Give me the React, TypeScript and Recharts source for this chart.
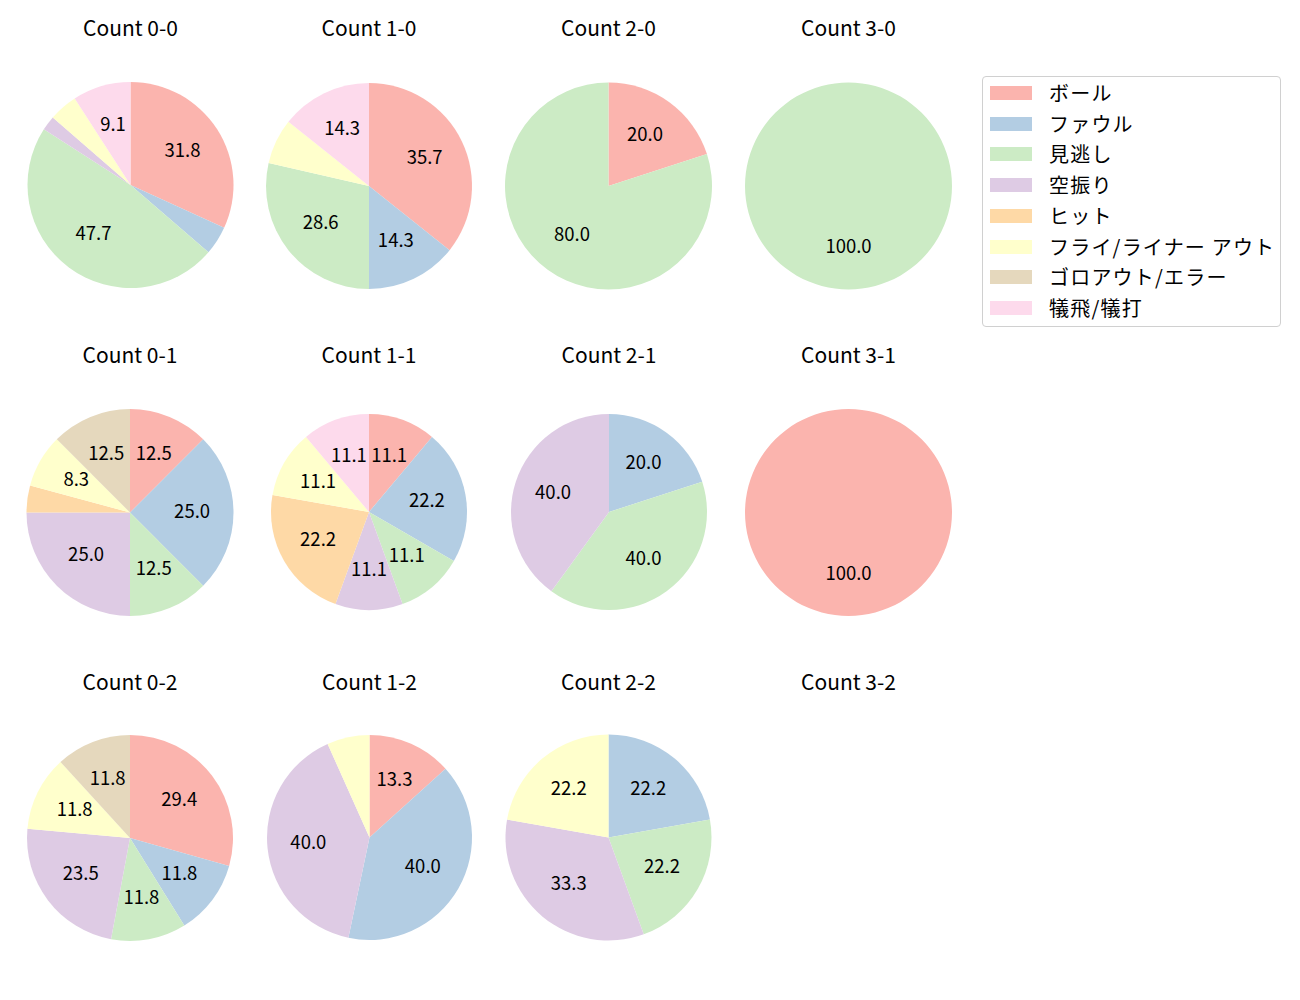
import React from 'react';
import { PieChart, Pie, Cell } from 'recharts';

const categories = ['ボール', 'ファウル', '見逃し', '空振り', 'ヒット', 'フライ/ライナー アウト', 'ゴロアウト/エラー', '犠飛/犠打'];
const colors = ['#fbb4ae', '#b3cde3', '#ccebc5', '#decbe4', '#fed9a6', '#ffffcc', '#e5d8bd', '#fddaec'];

// percentages per count, in category order
const count00 = [31.8, 4.5, 47.7, 2.3, 0, 4.5, 0, 9.1];
const count10 = [35.7, 14.3, 28.6, 0, 0, 7.1, 0, 14.3];
const count20 = [20.0, 0, 80.0, 0, 0, 0, 0, 0];
const count30 = [0, 0, 100.0, 0, 0, 0, 0, 0];
const count01 = [12.5, 25.0, 12.5, 25.0, 4.2, 8.3, 12.5, 0];
const count11 = [11.1, 22.2, 11.1, 11.1, 22.2, 11.1, 0, 11.1];
const count21 = [0, 20.0, 40.0, 40.0, 0, 0, 0, 0];
const count31 = [100.0, 0, 0, 0, 0, 0, 0, 0];
const count02 = [29.4, 11.8, 11.8, 23.5, 0, 11.8, 11.8, 0];
const count12 = [13.3, 40.0, 0, 40.0, 0, 6.7, 0, 0];
const count22 = [0, 22.2, 22.2, 33.3, 0, 22.2, 0, 0];

const pies = [
  { title: 'Count 0-0', values: count00, cx: 130.5, cy: 185, r: 103 },
  { title: 'Count 1-0', values: count10, cx: 369, cy: 186, r: 103 },
  { title: 'Count 2-0', values: count20, cx: 608.5, cy: 186, r: 103.5 },
  { title: 'Count 3-0', values: count30, cx: 848.5, cy: 186, r: 103.5 },
  { title: 'Count 0-1', values: count01, cx: 130, cy: 512.5, r: 103.5 },
  { title: 'Count 1-1', values: count11, cx: 369, cy: 512, r: 98 },
  { title: 'Count 2-1', values: count21, cx: 609, cy: 512, r: 98 },
  { title: 'Count 3-1', values: count31, cx: 848.5, cy: 512.5, r: 103.5 },
  { title: 'Count 0-2', values: count02, cx: 130, cy: 838, r: 103 },
  { title: 'Count 1-2', values: count12, cx: 369.5, cy: 837.5, r: 102.5 },
  { title: 'Count 2-2', values: count22, cx: 608.5, cy: 837.5, r: 103 },
];

const emptyTitle = { title: 'Count 3-2', x: 848.5 };
const titleY = [27, 354, 681];
const font = '"Noto Sans CJK JP", "Noto Sans", sans-serif';

const renderLabel = (props: any) => {
  const { cx, cy, midAngle, outerRadius, percent, value } = props;
  if (percent < 0.08) return null;
  const rad = (Math.PI / 180) * midAngle;
  const d = outerRadius * 0.6;
  const x = cx + d * Math.cos(rad);
  const y = cy - d * Math.sin(rad) - 3;
  return (
    <text x={x} y={y} textAnchor="middle" dominantBaseline="central" fill="#000" fontSize={18.5} fontFamily={font}>
      {Number(value).toFixed(1)}
    </text>
  );
};

const titleStyle = (x: number, y: number): React.CSSProperties => ({
  position: 'absolute',
  left: x - 100,
  width: 200,
  top: y - 15,
  textAlign: 'center',
  fontSize: 21,
  lineHeight: '30px',
  color: '#000',
});

export default function App() {
  return (
    <div style={{ position: 'absolute', left: 0, top: 0, width: 1300, height: 1000, background: '#fff', fontFamily: font }}>
      <PieChart width={1300} height={1000} margin={{ top: 0, right: 0, bottom: 0, left: 0 }}>
        {pies.map((p, i) => {
          const data = categories
            .map((name, k) => ({ name, value: p.values[k], color: colors[k] }))
            .filter((d) => d.value > 0);
          return (
            <Pie
              key={p.title}
              data={data}
              dataKey="value"
              nameKey="name"
              cx={p.cx}
              cy={p.cy}
              outerRadius={p.r}
              innerRadius={0}
              startAngle={90}
              endAngle={-270}
              stroke="none"
              labelLine={false}
              label={renderLabel}
              isAnimationActive={false}
            >
              {data.map((d, k) => (
                <Cell key={`${i}-${k}`} fill={d.color} />
              ))}
            </Pie>
          );
        })}
      </PieChart>

      {pies.map((p, i) => (
        <div key={`t-${p.title}`} style={titleStyle(p.cx, titleY[Math.floor(i / 4)])}>
          {p.title}
        </div>
      ))}
      <div style={titleStyle(emptyTitle.x, titleY[2])}>{emptyTitle.title}</div>

      <div
        style={{ position: 'absolute', left: 982, top: 76, width: 299, height: 251, border: '1px solid #d0d0d0', borderRadius: 4, boxSizing: 'border-box', background: '#fff' }}
      >
        {categories.map((c, k) => (
          <div key={c} style={{ position: 'absolute', left: 7, top: 5 + k * 30.7, height: 22, display: 'flex', alignItems: 'center' }}>
            <div style={{ width: 42, height: 14, background: colors[k] }} />
            <span style={{ marginLeft: 17, fontSize: 20, lineHeight: '22px', color: '#000', whiteSpace: 'nowrap', letterSpacing: 1.2 }}>{c}</span>
          </div>
        ))}
      </div>
    </div>
  );
}
